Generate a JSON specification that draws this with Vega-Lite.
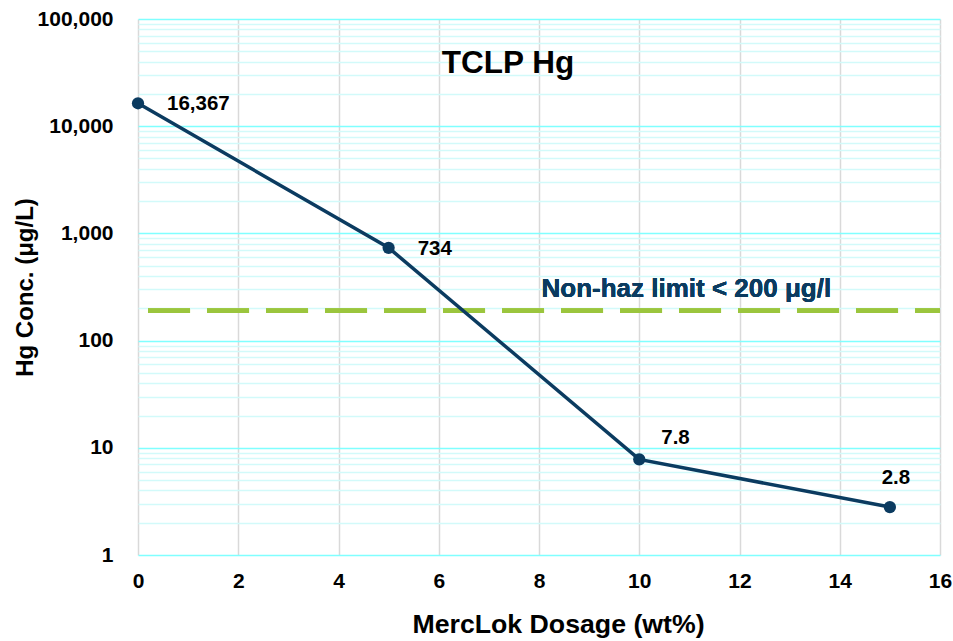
{
  "$schema": "https://vega.github.io/schema/vega-lite/v6.json",
  "width": 802,
  "height": 536,
  "autosize": "none",
  "padding": {"left": 138, "top": 19, "right": 13, "bottom": 86},
  "background": "white",
  "config": {
    "view": {"stroke": null},
    "font": "Liberation Sans",
    "axis": {"labelFont": "Liberation Sans", "titleFont": "Liberation Sans", "labelFontWeight": "bold", "titleFontWeight": "bold", "labelColor": "#000000", "titleColor": "#000000"}
  },
  "title": {
    "text": "TCLP Hg",
    "font": "Liberation Sans",
    "fontSize": 31.5,
    "fontWeight": "bold",
    "color": "#000000",
    "anchor": "middle",
    "dx": -31,
    "dy": 75
  },
  "data": {
    "values": [
      {"dosage": 0, "hg": 16367, "label": "16,367"},
      {"dosage": 5, "hg": 734, "label": "734"},
      {"dosage": 10, "hg": 7.8, "label": "7.8"},
      {"dosage": 15, "hg": 2.8, "label": "2.8"}
    ]
  },
  "encoding": {
    "x": {
      "field": "dosage",
      "type": "quantitative",
      "scale": {"domain": [0, 16], "nice": false, "zero": false},
      "axis": {
        "values": [0, 2, 4, 6, 8, 10, 12, 14, 16],
        "title": "MercLok Dosage (wt%)",
        "titleFontSize": 26.7,
        "titlePadding": 20,
        "titleX": 420,
        "labelFontSize": 21,
        "labelPadding": 15,
        "labelFlush": false,
        "ticks": false,
        "domain": false,
        "grid": true,
        "gridColor": "#D9D9D9",
        "gridWidth": 1.5
      }
    },
    "y": {
      "field": "hg",
      "type": "quantitative",
      "scale": {"type": "log", "domain": [1, 100000], "nice": false},
      "axis": {
        "values": [1, 2, 3, 4, 5, 6, 7, 8, 9, 10, 20, 30, 40, 50, 60, 70, 80, 90, 100, 200, 300, 400, 500, 600, 700, 800, 900, 1000, 2000, 3000, 4000, 5000, 6000, 7000, 8000, 9000, 10000, 20000, 30000, 40000, 50000, 60000, 70000, 80000, 90000, 100000],
        "format": ",",
        "labelExpr": "indexof([1,10,100,1000,10000,100000], datum.value) >= 0 ? datum.label : ''",
        "title": "Hg Conc. (μg/L)",
        "titleFontSize": 24,
        "titlePadding": 0,
        "labelFontSize": 21,
        "labelPadding": 25,
        "labelFlush": false,
        "labelOverlap": false,
        "ticks": false,
        "domain": false,
        "grid": true,
        "gridColor": {"condition": {"test": "indexof([1,10,100,1000,10000,100000], datum.value) >= 0", "value": "#80FFFF"}, "value": "#D2FAFA"},
        "gridWidth": 1.5
      }
    }
  },
  "layer": [
    {
      "mark": {"type": "rule", "color": "#9BC53D", "strokeWidth": 4.5, "strokeDash": [42, 17]},
      "encoding": {
        "x": {"datum": 0.2},
        "x2": {"datum": 16},
        "y": {"datum": 190}
      }
    },
    {
      "mark": {"type": "text", "text": "Non-haz limit < 200 μg/l", "font": "Liberation Sans", "fontWeight": "bold", "fontSize": 26, "color": "#0B3B60", "align": "left", "baseline": "alphabetic", "dy": -14},
      "encoding": {
        "x": {"datum": 8.05},
        "y": {"datum": 190}
      }
    },
    {
      "mark": {"type": "line", "color": "#0B3B60", "strokeWidth": 3.5, "point": {"filled": true, "color": "#0B3B60", "size": 150, "opacity": 1}}
    },
    {
      "transform": [{"filter": "datum.dosage <= 5"}],
      "mark": {"type": "text", "font": "Liberation Sans", "fontWeight": "bold", "fontSize": 20.5, "color": "#000000", "align": "left", "baseline": "middle", "dx": 29, "dy": 1},
      "encoding": {"text": {"field": "label"}}
    },
    {
      "transform": [{"filter": "datum.dosage == 10"}],
      "mark": {"type": "text", "font": "Liberation Sans", "fontWeight": "bold", "fontSize": 20.5, "color": "#000000", "align": "left", "baseline": "middle", "dx": 22, "dy": -21},
      "encoding": {"text": {"field": "label"}}
    },
    {
      "transform": [{"filter": "datum.dosage == 15"}],
      "mark": {"type": "text", "font": "Liberation Sans", "fontWeight": "bold", "fontSize": 20.5, "color": "#000000", "align": "center", "baseline": "middle", "dx": 6, "dy": -29},
      "encoding": {"text": {"field": "label"}}
    }
  ]
}
